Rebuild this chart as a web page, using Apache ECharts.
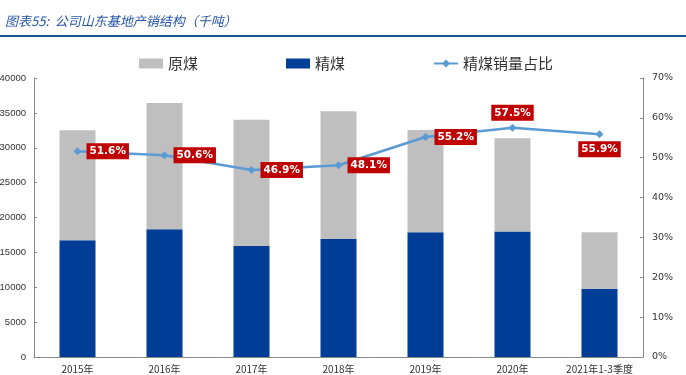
<!DOCTYPE html>
<html>
<head>
<meta charset="utf-8">
<script src="https://cdn.jsdelivr.net/npm/echarts@6/dist/echarts.min.js"></script>
<style>
  html, body { margin: 0; padding: 0; background: #fff; }
  #main { width: 686px; height: 375px; }
</style>
</head>
<body>
<div id="main"></div>
<script>
// 山东基地产销结构（千吨）
var years = ['2015年', '2016年', '2017年', '2018年', '2019年', '2020年', '2021年1-3季度']
var jingmei = [16750, 18300, 15900, 16900, 17900, 18000, 9800]   // 精煤
var yuanmei = [15750, 18100, 18100, 18350, 14650, 13350, 8100]   // 原煤
var ratio = [51.6, 50.6, 46.9, 48.1, 55.2, 57.5, 55.9]           // 精煤销量占比 %

var myChart = echarts.init(document.getElementById('main'))
var labelFont = 'DejaVu Sans'
var cjkFont = 'Noto Sans CJK SC'
var labelPos = ['right', 'right', 'right', 'right', 'right', 'top', 'bottom']

var option = {
  animation: false,
  backgroundColor: '#fff',
  title: {
    text: '图表55:  公司山东基地产销结构（千吨）',
    left: 0,
    top: 10,
    textStyle: {
      fontFamily: cjkFont,
      fontStyle: 'italic',
      fontWeight: 'normal',
      fontSize: 13,
      color: '#2A57A5'
    }
  },
  graphic: [{
    type: 'rect',
    shape: { x: 0, y: 35, width: 686, height: 2 },
    style: { fill: '#1F4E9A' }
  }],
  legend: {
    top: 51,
    left: 134,
    itemGap: 88,
    itemWidth: 24,
    itemHeight: 10,
    textStyle: { fontFamily: cjkFont, fontSize: 15, color: '#333' },
    data: [
      { name: '原煤', icon: 'rect' },
      { name: '精煤', icon: 'rect' },
      { name: '精煤销量占比' }
    ]
  },
  grid: { left: 34, right: 43, top: 78, bottom: 18, containLabel: false, outerBoundsMode: 'none' },
  xAxis: {
    type: 'category',
    data: years,
    axisLine: { lineStyle: { color: '#888' } },
    axisTick: { inside: true, length: 3, lineStyle: { color: '#888' } },
    axisLabel: { color: '#333', fontSize: 10, fontFamily: cjkFont, margin: 7, interval: 0 }
  },
  yAxis: [
    {
      type: 'value',
      min: 0, max: 40000, interval: 5000,
      splitLine: { show: false },
      axisLine: { show: true, lineStyle: { color: '#888' } },
      axisTick: { show: true, inside: true, length: 3, lineStyle: { color: '#888' } },
      axisLabel: { color: '#333', fontSize: 9.5, fontFamily: 'Liberation Sans', margin: 8, formatter: function (v) { return String(v) } }
    },
    {
      type: 'value',
      min: 0, max: 70, interval: 10,
      splitLine: { show: false },
      axisLine: { show: true, lineStyle: { color: '#888' } },
      axisTick: { show: true, inside: true, length: 3, lineStyle: { color: '#888' } },
      axisLabel: { color: '#333', fontSize: 9.5, fontFamily: labelFont, margin: 9, formatter: '{value}%' }
    }
  ],
  series: [
    {
      name: '精煤',
      type: 'bar',
      stack: 'total',
      barWidth: 36,
      itemStyle: { color: '#003D96' },
      data: jingmei
    },
    {
      name: '原煤',
      type: 'bar',
      stack: 'total',
      barWidth: 36,
      itemStyle: { color: '#BFBFBF' },
      data: yuanmei
    },
    {
      name: '精煤销量占比',
      type: 'line',
      yAxisIndex: 1,
      symbol: 'diamond',
      symbolSize: 8,
      itemStyle: { color: '#5B9BD5' },
      lineStyle: { color: '#5B9BD5', width: 2.5 },
      label: {
        show: true,
        formatter: '{c}%',
        color: '#fff',
        fontWeight: 'bold',
        fontSize: 10.5,
        fontFamily: labelFont,
        backgroundColor: '#C00000',
        padding: [3, 3, 2, 3],
        distance: 5
      },
      data: ratio.map(function (v, i) {
        return { value: v, label: { position: labelPos[i], distance: labelPos[i] === 'right' ? 5 : 3 } }
      })
    }
  ]
}
myChart.setOption(option)
</script>
</body>
</html>
